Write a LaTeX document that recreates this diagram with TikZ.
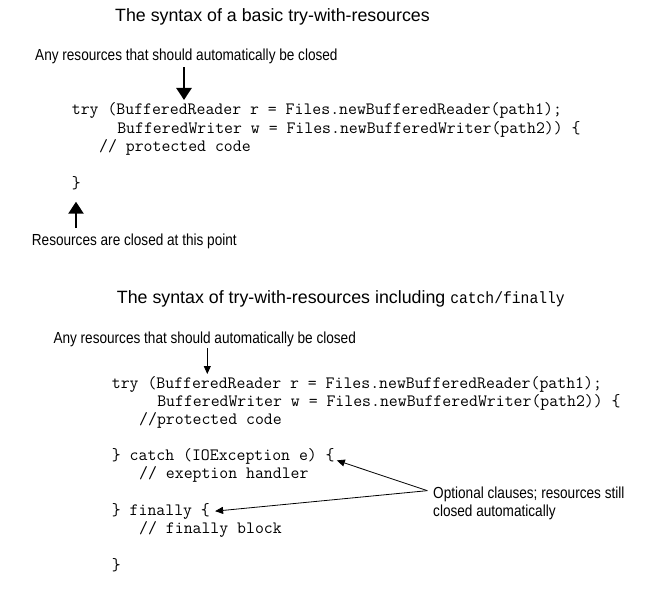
\documentclass[tikz,border=0pt]{standalone}
\usepackage{fontspec}
\setmainfont{Liberation Sans}
\newfontfamily\narrowfont[FakeStretch=0.85]{Liberation Sans}
\newfontfamily\sansmono[FakeStretch=0.9]{Liberation Mono}
\usetikzlibrary{arrows.meta}

\begin{document}
\begin{tikzpicture}[x=1pt, y=-1pt,
    title/.style={font=\fontsize{17.8}{20}\selectfont, anchor=base west, inner sep=0pt},
    note/.style={font=\narrowfont\fontsize{16}{18}\selectfont, anchor=base west, inner sep=0pt},
    code/.style={font=\ttfamily\fontsize{17.3}{19}\selectfont, anchor=base west, inner sep=0pt},
    bigarrow/.style={line width=2.5pt, -{Triangle[width=15pt, length=12pt]}},
    thinarrow/.style={line width=0.8pt, -{Triangle[width=7pt, length=8pt]}}]
    \useasboundingbox (0,0) rectangle (666,599);
    % basic try-with-resources
    \node[title] (title1) at (115,21.7) {The syntax of a basic try-with-resources};
    \node[note] (any1) at (35,60.7) {Any resources that should automatically be closed};
    \node[code] (try1) at (71.7,115) {try (BufferedReader r = Files.newBufferedReader(path1);};
    \node[code] (writer1) at (117.1,133.3) {BufferedWriter w = Files.newBufferedWriter(path2)) \{};
    \node[code] (body1) at (99,151.6) {// protected code};
    \node[code] (close1) at (71.7,188.2) {\}};
    \node[note] (closed1) at (31.7,245) {Resources are closed at this point};
    \coordinate (tip1) at (184,100);
    \coordinate (tip2) at (76,201.7);
    \draw[bigarrow] (any1.south -| tip1) ++(0,3) -- (tip1);
    \draw[bigarrow] (closed1.north -| tip2) ++(0,-5) -- (tip2);
    % with catch/finally
    \node[title] (title2) at (116.7,303) {The syntax of try-with-resources including {\sansmono\fontsize{16.3}{20}\selectfont catch/finally}};
    \node[note] (any2) at (53.3,343.3) {Any resources that should automatically be closed};
    \node[code] (try2) at (111.7,388.3) {try (BufferedReader r = Files.newBufferedReader(path1);};
    \node[code] (writer2) at (157.1,406.5) {BufferedWriter w = Files.newBufferedWriter(path2)) \{};
    \node[code] (body2) at (139,424.7) {//protected code};
    \node[code] (catch) at (111.7,460.5) {\} catch (IOException e) \{};
    \node[code] (handler) at (139,478.8) {// exeption handler};
    \node[code] (finally) at (111.7,515.2) {\} finally \{};
    \node[code] (block) at (139,533.4) {// finally block};
    \node[code] (close2) at (111.7,570.6) {\}};
    \node[note] (opt1) at (433,498.3) {Optional clauses; resources still};
    \node[note] (opt2) at (433,516) {closed automatically};
    \coordinate (tip3) at (207.3,374);
    \draw[thinarrow] (any2.south -| tip3) ++(0,1.6) -- (tip3);
    \draw[thinarrow] ([xshift=-5.7pt, yshift=3.5pt]opt1.west) -- ([xshift=2pt, yshift=-4pt]catch.east);
    \draw[thinarrow] ([xshift=-5.7pt, yshift=3.5pt]opt1.west) -- ([xshift=5pt]finally.east);
\end{tikzpicture}
\end{document}
